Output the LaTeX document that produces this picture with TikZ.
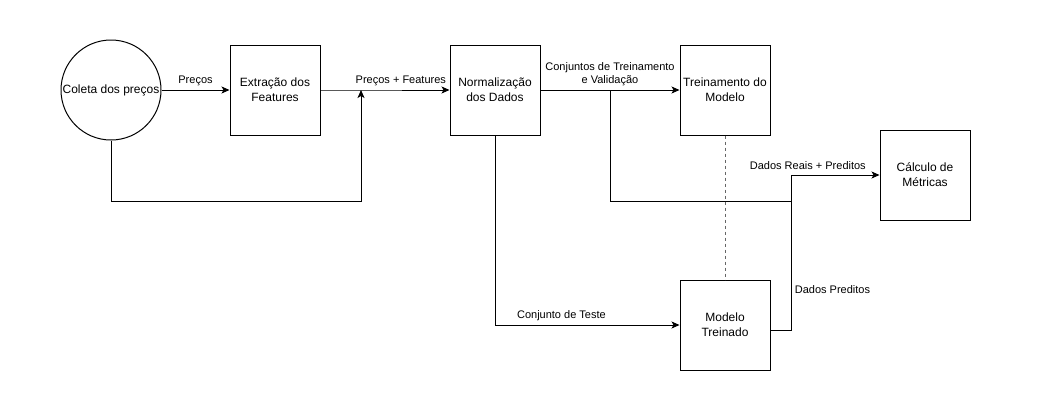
\documentclass[tikz,border=0pt]{standalone}
\usepackage{fontspec}
\setmainfont{Liberation Sans}
\usetikzlibrary{arrows.meta}
\begin{document}
\begin{tikzpicture}[x=1pt, y=-1pt, line width=1pt,
    font=\fontsize{12}{15}\selectfont,
    caixa/.style={draw, minimum width=90pt, minimum height=90pt, inner sep=0pt, align=center},
    seta/.style={-{Stealth[length=8pt, width=7pt, inset=2pt]}},
    rotulo/.style={font=\fontsize{11}{13.5}\selectfont, align=center}]
          \useasboundingbox (0,0) rectangle (1040,410);
          \node[circle, draw, minimum size=100pt, inner sep=0pt] (coleta) at (111,90){Coleta dos preços};
          \node[caixa] (extracao) at (275,90){Extração dos\\Features};
          \node[caixa] (normal) at (495,90){Normalização\\dos Dados};
          \node[caixa] (treino) at (725,90){Treinamento do\\Modelo};
          \node[caixa] (calculo) at (925,175){Cálculo de\\Métricas};
          \node[caixa] (modelo) at (725,325){Modelo\\Treinado};
          \coordinate (juncao) at (361,90);
          \coordinate (volta) at (361,201);
          \coordinate (ramo) at (610,90);
          \coordinate (uniao) at (791,201);
          \coordinate (subida) at (791,175);
          \draw[seta](coleta) -- node[rotulo, above] {Preços} (extracao);
          \draw[seta](extracao) -- (juncao) -- node[rotulo, above, pos=0.45] {Preços + Features} (normal);
          \draw[seta](coleta.south) |- (volta) -- (juncao);
          \draw[seta](normal) -- node[rotulo, above] {Conjuntos de Treinamento\\e Validação} (treino);
          \draw[](ramo) |- (uniao);
          \draw[seta](normal.south) |- node[rotulo, above, pos=0.68] {Conjunto de Teste} (modelo.west);
          \draw[seta]([yshift=-5pt]modelo.east) -| node[rotulo, right, pos=0.63] {Dados Preditos} (subida)
                -- node[rotulo, above=2pt, pos=0.19] {Dados Reais + Preditos} (calculo.west);
          \draw[dashed, draw=black!60](treino) -- (modelo);
        \end{tikzpicture}
\end{document}
